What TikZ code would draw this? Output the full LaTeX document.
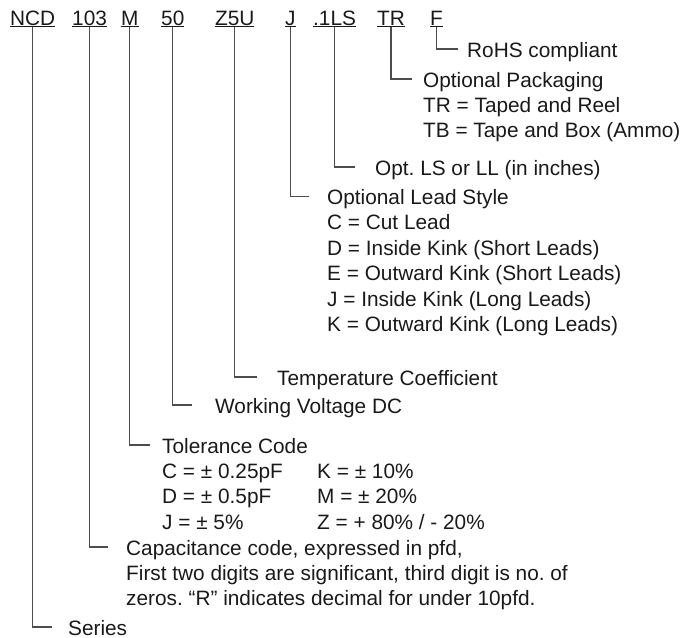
\documentclass[tikz,border=0pt]{standalone}
\usepackage{fontspec}
\setmainfont{Liberation Sans}
\newcommand\desc[1]{\begin{tabular}[t]{@{}l@{}}#1\end{tabular}}
\newcommand\tolpair[2]{\makebox[155pt][l]{#1}#2}
\tikzset{
  code/.style={inner sep=0pt, anchor=base west, text=black!90},
  note/.style={inner sep=0pt, anchor=base west, text=black!90},
  lead/.style={draw=black!70, line width=1.2pt},
}
\begin{document}
\begin{tikzpicture}[x=1pt,y=-1pt,font=\fontsize{20.8}{25.4}\selectfont]
\useasboundingbox (0,0) rectangle (689,638);
% part number
\node[code] (ncd) at (10,25) {\underline{NCD}};
\node[code] (cap) at (72,25) {\underline{103}};
\node[code] (tol) at (121,25) {\underline{M}};
\node[code] (volt) at (161,25) {\underline{50}};
\node[code] (temp) at (215,25) {\underline{Z5U}};
\node[code] (style) at (285,25) {\underline{J}};
\node[code] (len) at (313,25) {\underline{.1LS}};
\node[code] (pack) at (377,25) {\underline{TR}};
\node[code] (rohs) at (430,25) {\underline{F}};
% descriptions
\node[note] (rohsnote) at (467,57) {RoHS compliant};
\node[note] (packnote) at (423,87) {\desc{Optional Packaging\\ TR = Taped and Reel\\ TB = Tape and Box (Ammo)}};
\node[note] (lennote) at (375,175) {Opt.\ LS or LL (in inches)};
\node[note] (stylenote) at (327,204.5) {\desc{Optional Lead Style\\ C = Cut Lead\\ D = Inside Kink (Short Leads)\\ E = Outward Kink (Short Leads)\\ J = Inside Kink (Long Leads)\\ K = Outward Kink (Long Leads)}};
\node[note] (tempnote) at (277,385) {Temperature Coefficient};
\node[note] (voltnote) at (215,413) {Working Voltage DC};
\node[note] (tolnote) at (162,453) {\desc{Tolerance Code\\ \tolpair{C = ± 0.25pF}{K = ± 10\%}\\ \tolpair{D = ± 0.5pF}{M = ± 20\%}\\ \tolpair{J = ± 5\%}{Z = + 80\% / - 20\%}}};
\node[note] (capnote) at (126,555) {\desc{Capacitance code, expressed in pfd,\\ First two digits are significant, third digit is no.\ of\\ zeros.\ “R” indicates decimal for under 10pfd.}};
\node[note] (series) at (68,635) {Series};
% leaders
\draw[lead] (rohs.south) |- ([xshift=-9pt,yshift=8pt]rohsnote.base west);
\draw[lead] (pack.south) |- ([xshift=-11pt,yshift=8pt]packnote.base west);
\draw[lead] (len.south) |- ([xshift=-20pt,yshift=8pt]lennote.base west);
\draw[lead] (style.south) |- ([xshift=-18pt,yshift=8pt]stylenote.base west);
\draw[lead] (temp.south) |- ([xshift=-20pt,yshift=8pt]tempnote.base west);
\draw[lead] (volt.south) |- ([xshift=-23pt,yshift=8pt]voltnote.base west);
\draw[lead] (tol.south) |- ([xshift=-12pt,yshift=8pt]tolnote.base west);
\draw[lead] (cap.south) |- ([xshift=-18pt,yshift=8pt]capnote.base west);
\draw[lead] (ncd.south) |- ([xshift=-16pt,yshift=8pt]series.base west);
\end{tikzpicture}
\end{document}
